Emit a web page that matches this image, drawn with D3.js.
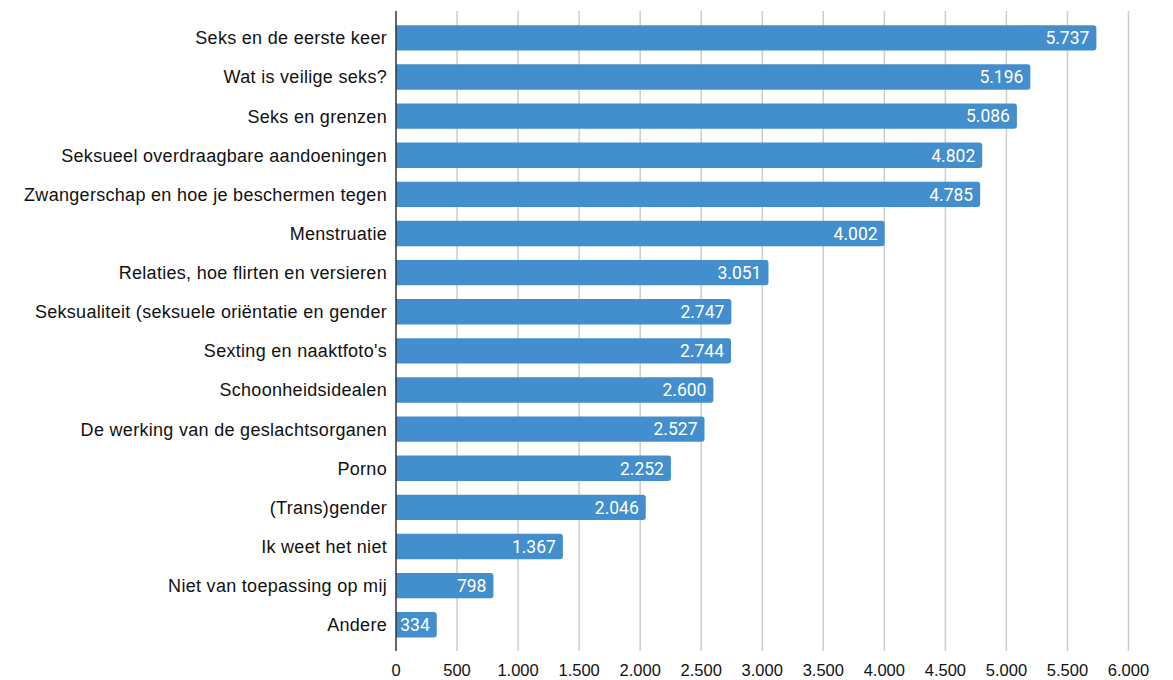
<!DOCTYPE html>
<html><head><meta charset="utf-8">
<script src="https://cdn.jsdelivr.net/npm/d3@7"></script>
<style>body{margin:0;background:#fff}</style>
</head><body>
<svg id="c" width="1173" height="680"></svg>
<script>
const categories = ["Seks en de eerste keer","Wat is veilige seks?","Seks en grenzen","Seksueel overdraagbare aandoeningen","Zwangerschap en hoe je beschermen tegen","Menstruatie","Relaties, hoe flirten en versieren","Seksualiteit (seksuele oriëntatie en gender","Sexting en naaktfoto's","Schoonheidsidealen","De werking van de geslachtsorganen","Porno","(Trans)gender","Ik weet het niet","Niet van toepassing op mij","Andere"];
const values = [5737,5196,5086,4802,4785,4002,3051,2747,2744,2600,2527,2252,2046,1367,798,334];
const tickValues = [0,500,1000,1500,2000,2500,3000,3500,4000,4500,5000,5500,6000];

(function(){
const fmt = v => d3.format(",")(v).replace(/,/g,".");
const svg = d3.select("#c");
const x = d3.scaleLinear().domain([0,6000]).range([396,1128.5]);
const y = d3.scaleBand().domain(categories).range([18.3,644.3]).paddingInner(0.35).paddingOuter(0.175);
const plotTop = 11, plotBottom = 651;

svg.append("g").selectAll("line").data(tickValues.slice(1)).join("line")
  .attr("x1",d=>x(d)).attr("x2",d=>x(d)).attr("y1",plotTop).attr("y2",plotBottom)
  .attr("stroke","#cccccc").attr("stroke-width",1.5);

const r = 3;
svg.append("g").selectAll("path").data(values).join("path")
  .attr("d",(d,i)=>{
    const x0=x(0), x1=x(d), y0=y(categories[i]), h=y.bandwidth();
    return `M${x0},${y0}H${x1-r}Q${x1},${y0} ${x1},${y0+r}V${y0+h-r}Q${x1},${y0+h} ${x1-r},${y0+h}H${x0}Z`;
  })
  .attr("fill","#438fcd");

svg.append("g").selectAll("text").data(values).join("text")
  .attr("x",d=>x(d)-7).attr("y",(d,i)=>y(categories[i])+y.bandwidth()/2)
  .attr("dy","0.36em").attr("text-anchor","end")
  .attr("fill","#fff").attr("font-family","Roboto, sans-serif").attr("font-size",17.5)
  .text(d=>fmt(d));

svg.append("line").attr("x1",396).attr("x2",396).attr("y1",plotTop).attr("y2",plotBottom)
  .attr("stroke","#333").attr("stroke-width",1.5);

svg.append("g").selectAll("text").data(categories).join("text")
  .attr("x",387).attr("y",d=>y(d)+y.bandwidth()/2).attr("dy","0.36em")
  .attr("text-anchor","end").attr("fill","#111")
  .attr("font-family","Liberation Sans, Arial, sans-serif").attr("font-size",18)
  .attr("letter-spacing","0.3px")
  .text(d=>d);

svg.append("g").selectAll("text").data(tickValues).join("text")
  .attr("x",d=>x(d)).attr("y",670.5).attr("dy","0.36em").attr("text-anchor","middle")
  .attr("fill","#111").attr("font-family","Liberation Sans, Arial, sans-serif").attr("font-size",16.5)
  .text(d=>fmt(d));
})();
</script>
</body></html>
